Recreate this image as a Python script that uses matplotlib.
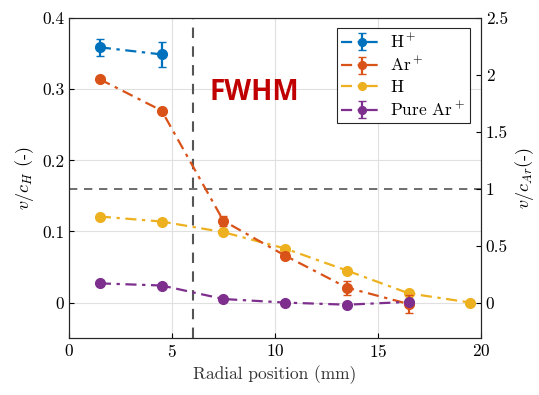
import matplotlib
matplotlib.use("Agg")
import matplotlib.pyplot as plt
import numpy as np

plt.rcParams['font.family'] = 'serif'
plt.rcParams['font.serif'] = ['cmr10', 'DejaVu Serif']
plt.rcParams['mathtext.fontset'] = 'cm'
plt.rcParams['axes.formatter.use_mathtext'] = True

# data
r = [1.5, 4.5, 7.5, 10.5, 13.5, 16.5, 19.5]

r_hp = r[:2]
v_hp = [0.359, 0.349]
e_hp = [0.012, 0.018]

r_ar = r[:6]
v_ar = [0.314, 0.270, 0.115, 0.066, 0.021, -0.002]
e_ar = [0.002, 0.002, 0.007, 0.004, 0.010, 0.013]

r_h = r
v_h = [0.121, 0.114, 0.099, 0.076, 0.045, 0.013, 0.0]

r_pure = r[:6]
v_pure = [0.027, 0.024, 0.005, 0.0, -0.003, 0.001]
e_pure = [0.002, 0.002, 0.002, 0.002, 0.002, 0.002]

fwhm_r = 6
ref_right = 1.0
scale = 6.25  # right axis / left axis

blue = '#0072BD'
orange = '#D95319'
yellow = '#EDB120'
purple = '#7E2F8E'

fig = plt.figure(figsize=(5.39, 3.95), dpi=100)
ax = fig.add_axes([0.128, 0.144, 0.764, 0.81])

ls = (0, (5, 2.5, 1.5, 2.5))
h1 = ax.errorbar(r_hp, v_hp, yerr=e_hp, color=blue, ls=ls, lw=1.6, marker='o',
                 ms=7, capsize=3, elinewidth=1.6, label='H$^+$', zorder=5)
h2 = ax.errorbar(r_ar, v_ar, yerr=e_ar, color=orange, ls=ls, lw=1.6,
                 marker='o', ms=7, capsize=3, elinewidth=1.6, label='Ar$^+$',
                 zorder=5)
h3, = ax.plot(r_h, v_h, color=yellow, ls=ls, lw=1.6, marker='o', ms=7,
              label='H', zorder=4)
h4 = ax.errorbar(r_pure, v_pure, yerr=e_pure, color=purple, ls=ls, lw=1.6,
                 marker='o', ms=7, capsize=3, elinewidth=1.6,
                 label='Pure Ar$^+$', zorder=5)

ax.axvline(fwhm_r, color='#555555', ls=(0, (5, 4)), lw=1.5, zorder=3)
ax.axhline(ref_right / scale, color='#555555', ls=(0, (5, 4)), lw=1.2,
           zorder=3)

ax.text(6.8, 0.295, 'FWHM', family='Open Sans', fontweight='bold',
        fontsize=20, color='#C00000', va='center', ha='left')

ax.set_xlim(0, 20)
ax.set_ylim(-0.05, 0.4)
ax.set_xticks([0, 5, 10, 15, 20])
ax.set_yticks([0, 0.1, 0.2, 0.3, 0.4])
ax.set_yticklabels(['0', '0.1', '0.2', '0.3', '0.4'])
ax.grid(True, color='#e0e0e0', lw=0.8)
ax.set_axisbelow(True)
ax.tick_params(direction='in', labelsize=12.5, top=False, right=False)
ax.set_xlabel('Radial position (mm)', fontsize=12.5, color='#333333')
ax.set_ylabel('$v/c_H$ (-)', fontsize=13)

ax2 = ax.twinx()
ax2.set_ylim(-0.05 * scale, 0.4 * scale)
ax2.set_yticks([0, 0.5, 1, 1.5, 2, 2.5])
ax2.set_yticklabels(['0', '0.5', '1', '1.5', '2', '2.5'])
ax2.tick_params(direction='in', labelsize=12.5)
ax2.set_ylabel('$v/c_{Ar}$(-)', fontsize=13)

for a in (ax, ax2):
    for s in a.spines.values():
        s.set_color('#262626')

leg = ax.legend([h1, h2, h3, h4], ['H$^+$', 'Ar$^+$', 'H', 'Pure Ar$^+$'],
                loc='upper right', bbox_to_anchor=(0.973, 0.969),
                borderaxespad=0,
                fontsize=12.5, fancybox=False, edgecolor='#262626',
                framealpha=1, handlelength=2.4, borderpad=0.25,
                labelspacing=0.3, handletextpad=0.4, markerscale=0.8)
leg.get_frame().set_linewidth(0.8)

fig.savefig('out.png', dpi=100)
